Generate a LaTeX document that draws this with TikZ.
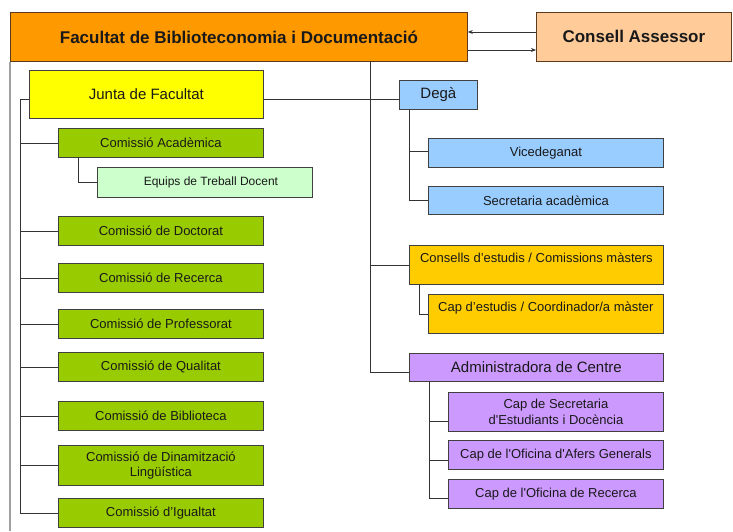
\documentclass[tikz,border=0pt]{standalone}
\usepackage{fontspec}
\setmainfont{Liberation Sans}
\usetikzlibrary{calc,arrows.meta}
\definecolor{orangeF}{HTML}{FF9900}
\definecolor{peachC}{HTML}{FFCC99}
\definecolor{yellowJ}{HTML}{FFFF00}
\definecolor{greenC}{HTML}{99CC00}
\definecolor{lgreenC}{HTML}{CCFFCC}
\definecolor{blueC}{HTML}{99CCFF}
\definecolor{goldC}{HTML}{FFCC00}
\definecolor{purpleC}{HTML}{CC99FF}
\definecolor{bordC}{HTML}{404040}
\definecolor{brownB}{HTML}{5C3A1E}
\definecolor{lineC}{HTML}{333333}
\definecolor{grayL}{HTML}{A0A0A0}
\tikzset{
  box/.style={draw=bordC, line width=0.8pt, inner sep=0pt, anchor=north west, align=center,
              font=\fontsize{13}{15.5}\selectfont, text=black!90},
  topbox/.style={box, draw=brownB, font=\fontsize{17}{20}\selectfont\bfseries},
  bigtxt/.style={font=\fontsize{15}{18}\selectfont},
  smalltxt/.style={font=\fontsize{12}{14}\selectfont},
  toptxt/.style={text height=17pt, text depth=22pt},
  conn/.style={draw=lineC, line width=0.8pt},
  grayline/.style={draw=grayL, line width=2pt},
  arr/.style={conn, -{Stealth[length=5pt,width=4pt]}}
}
\begin{document}
\begin{tikzpicture}[x=1pt,y=-1pt]
\useasboundingbox (0,0) rectangle (733,531);
% top
\node[topbox, fill=orangeF, minimum width=457, minimum height=49] (fac) at (10,12) {Facultat de Biblioteconomia i Documentació};
\node[topbox, fill=peachC, minimum width=195, minimum height=49] (cons) at (536,12) {Consell Assessor};
\draw[arr] ($(cons.north west)+(0,20)$) -- ($(fac.north east)+(0,20)$);
\draw[arr] ($(fac.north east)+(0,38)$) -- ($(cons.north west)+(0,38)$);
% left side
\node[box, bigtxt, fill=yellowJ, minimum width=234, minimum height=48] (junta) at (29,70) {Junta de Facultat};
\node[box, fill=greenC, minimum width=205, minimum height=29] (ac) at (58,128) {Comissió Acadèmica};
\node[box, smalltxt, fill=lgreenC, minimum width=215, minimum height=30] (eq) at (97,167) {\hspace*{12pt}Equips de Treball Docent};
\node[box, fill=greenC, minimum width=205, minimum height=29] (doc) at (58,216) {Comissió de Doctorat};
\node[box, fill=greenC, minimum width=205, minimum height=29] (rec) at (58,263) {Comissió de Recerca};
\node[box, fill=greenC, minimum width=205, minimum height=29] (prof) at (58,309) {Comissió de Professorat};
\node[box, fill=greenC, minimum width=205, minimum height=29] (qual) at (58,352) {Comissió de Qualitat};
\node[box, fill=greenC, minimum width=205, minimum height=29] (bib) at (58,401) {Comissió de Biblioteca};
\node[box, fill=greenC, minimum width=205, minimum height=40] (din) at (58,445) {Comissió de Dinamització\\Lingüística};
\node[box, fill=greenC, minimum width=205, minimum height=29] (igu) at (58,498) {Comissió d’Igualtat};
% right side
\node[box, bigtxt, fill=blueC, minimum width=78, minimum height=29] (dega) at (399,80) {Degà};
\node[box, fill=blueC, minimum width=235, minimum height=29] (vice) at (428,138) {Vicedeganat};
\node[box, fill=blueC, minimum width=235, minimum height=28] (secr) at (428,186) {Secretaria acadèmica};
\node[box, toptxt, fill=goldC, minimum width=254, minimum height=39] (consells) at (409,245) {Consells d’estudis / Comissions màsters};
\node[box, toptxt, fill=goldC, minimum width=235, minimum height=39] (capest) at (428,294) {Cap d’estudis / Coordinador/a màster};
\node[box, bigtxt, fill=purpleC, minimum width=254, minimum height=28] (adm) at (409,353) {Administradora de Centre};
\node[box, fill=purpleC, minimum width=215, minimum height=39] (ps) at (448,392) {Cap de Secretaria\\d\textquotesingle Estudiants i Docència};
\node[box, fill=purpleC, minimum width=215, minimum height=29] (pa) at (448,440) {Cap de l\textquotesingle Oficina d\textquotesingle Afers Generals};
\node[box, fill=purpleC, minimum width=215, minimum height=29] (pr) at (448,479) {Cap de l\textquotesingle Oficina de Recerca};
% connectors
\coordinate (leftend) at (10,531);
\draw[grayline] (fac.south west) -- (leftend);
\draw[conn] ($(junta.west)+(0,5)$) -- ++(-9,0) |- (igu.west);
\foreach \n in {ac,doc,rec,prof,qual,bib,din}{\draw[conn] (\n.west) -- ++(-38,0);}
\draw[conn] ($(ac.south west)+(20,0)$) |- (eq.west);
\coordinate (rs) at (370,61);
\draw[conn] (rs) |- ($(adm.west)+(0,5)$);
\draw[conn] ($(junta.east)+(0,5)$) -- ($(dega.west)+(0,4.5)$);
\draw[conn] (rs |- consells.west) -- (consells.west);
\draw[conn] ($(dega.south west)+(10,0)$) |- ($(vice.west)+(0,-2)$);
\draw[conn] ($(dega.south west)+(10,0)$) |- (secr.west);
\draw[conn] ($(consells.south west)+(10,0)$) |- (capest.west);
\draw[conn] ($(adm.south west)+(20,0)$) |- ($(ps.west)+(0,9)$);
\draw[conn] ($(adm.south west)+(20,0)$) |- ($(pa.west)+(0,5)$);
\draw[conn] ($(adm.south west)+(20,0)$) |- ($(pr.west)+(0,4.5)$);
\end{tikzpicture}
\end{document}
